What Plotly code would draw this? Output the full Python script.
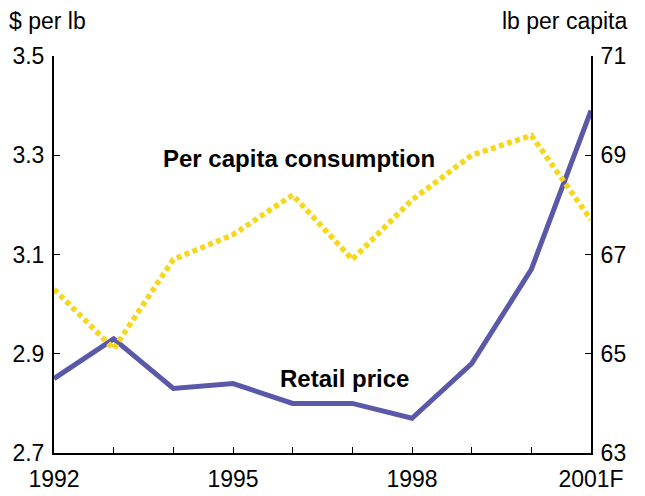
import plotly.graph_objects as go

years = [1992, 1993, 1994, 1995, 1996, 1997, 1998, 1999, 2000, 2001]
retail_price = [2.85, 2.93, 2.83, 2.84, 2.80, 2.80, 2.77, 2.88, 3.07, 3.39]
consumption = [66.3, 65.1, 66.9, 67.4, 68.2, 66.9, 68.1, 69.0, 69.4, 67.7]

tick_years = [1992, 1993, 1994, 1995, 1996, 1997, 1998, 1999, 2000, 2001]
tick_text = ["1992", "", "", "1995", "", "", "1998", "", "", "2001F"]
left_ticks = [2.7, 2.9, 3.1, 3.3, 3.5]
right_ticks = [63, 65, 67, 69, 71]

FONT = "Liberation Sans, Arial, sans-serif"

fig = go.Figure()

fig.add_trace(
    go.Scatter(
        x=years,
        y=consumption,
        mode="lines",
        yaxis="y2",
        line=dict(color="#f5d71f", width=5.5, dash="5px,3.5px"),
        showlegend=False,
    )
)

fig.add_trace(
    go.Scatter(
        x=years,
        y=retail_price,
        mode="lines",
        line=dict(color="#5a58a8", width=5),
        showlegend=False,
    )
)

axis_font = dict(family=FONT, size=23, color="black")
label_font = dict(family=FONT, size=24, color="black")

# page has an 8px body margin, so the figure is sized to fit inside it
fig.update_layout(
    width=637,
    height=488,
    margin=dict(l=46, r=54, t=48, b=43, autoexpand=False),
    paper_bgcolor="white",
    plot_bgcolor="white",
    font=axis_font,
    xaxis=dict(
        range=[1992, 2001],
        tickvals=tick_years,
        ticktext=tick_text,
        ticks="inside",
        ticklen=6,
        tickcolor="black",
        ticklabelstandoff=4,
        automargin=False,
        showline=True,
        linecolor="black",
        linewidth=2,
        showgrid=False,
        zeroline=False,
        tickfont=axis_font,
    ),
    yaxis=dict(
        range=[2.7, 3.5],
        tickvals=left_ticks,
        tickformat=".1f",
        ticks="inside",
        ticklen=6,
        tickcolor="black",
        ticklabelstandoff=3,
        automargin=False,
        showline=True,
        linecolor="black",
        linewidth=2,
        showgrid=False,
        zeroline=False,
        tickfont=axis_font,
    ),
    yaxis2=dict(
        range=[63, 71],
        tickvals=right_ticks,
        overlaying="y",
        side="right",
        ticks="inside",
        ticklen=6,
        tickcolor="black",
        ticklabelstandoff=3,
        automargin=False,
        showline=True,
        linecolor="black",
        linewidth=2,
        showgrid=False,
        zeroline=False,
        tickfont=axis_font,
    ),
)

# axis unit titles
fig.add_annotation(
    text="$ per lb", xref="paper", yref="paper", x=0, y=1,
    xanchor="left", yanchor="bottom", xshift=-47, yshift=20,
    showarrow=False, font=axis_font,
)
fig.add_annotation(
    text="lb per capita", xref="paper", yref="paper", x=1, y=1,
    xanchor="right", yanchor="bottom", xshift=39, yshift=20,
    showarrow=False, font=axis_font,
)

# series labels
fig.add_annotation(
    text="<b>Per capita consumption</b>", x=1996.1, y=3.294,
    showarrow=False, font=label_font,
)
fig.add_annotation(
    text="<b>Retail price</b>", x=1996.87, y=2.85,
    showarrow=False, font=label_font,
)

fig.write_html("out.html")
